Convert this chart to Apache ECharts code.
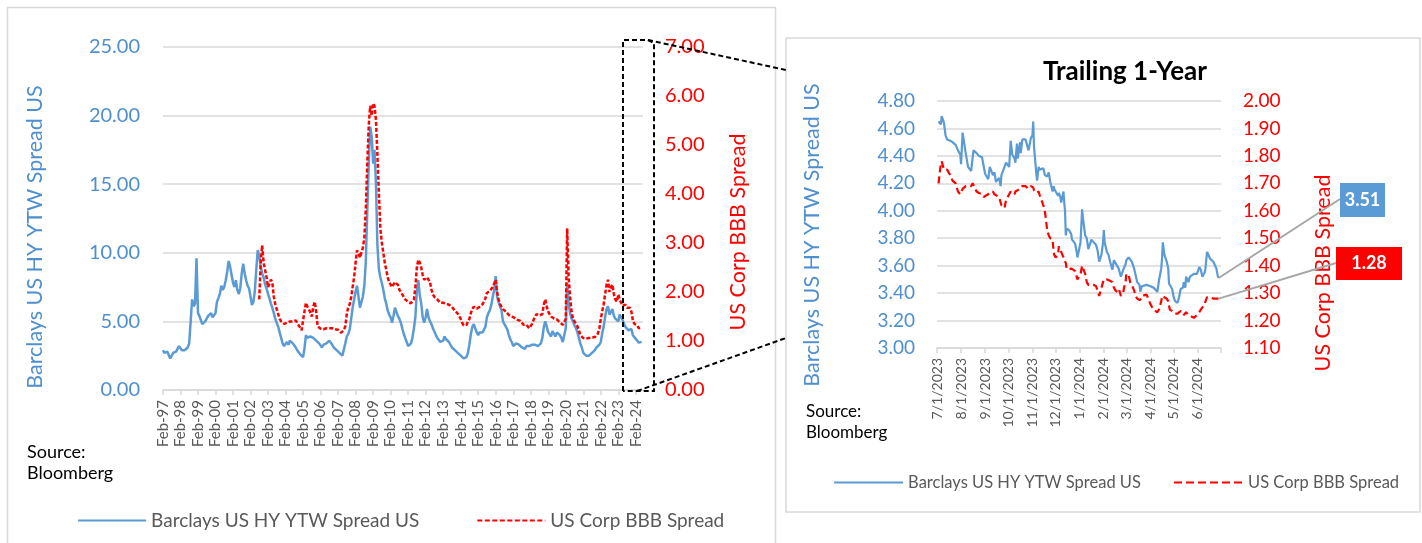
<!DOCTYPE html>
<html><head><meta charset="utf-8">
<script src="https://cdn.jsdelivr.net/npm/echarts@6/dist/echarts.min.js"></script>
<style>html,body{margin:0;padding:0;background:#fff}#c{width:1422px;height:543px}</style>
</head><body><div id="c"></div>
<script>
// ---------- Long history (monthly) ----------
const xTickLabels = ['Feb-97','Feb-98','Feb-99','Feb-00','Feb-01','Feb-02','Feb-03','Feb-04','Feb-05','Feb-06','Feb-07','Feb-08','Feb-09','Feb-10','Feb-11','Feb-12','Feb-13','Feb-14','Feb-15','Feb-16','Feb-17','Feb-18','Feb-19','Feb-20','Feb-21','Feb-22','Feb-23','Feb-24'];
const hyStart = [1997, 2];
const hyMonthly = [
  2.9,2.7,2.6,2.8,2.7,2.3,2.5,2.7,2.8,2.8,3.0,            // 1997 Feb-Dec
  3.2,3.1,2.9,2.8,2.9,2.9,3.1,3.4,5.0,6.6,6.1,6.3,        // 1998
  9.6,5.6,5.4,5.1,4.8,4.9,5.0,5.2,5.4,5.5,5.6,5.3,        // 1999
  5.2,5.6,6.4,6.7,7.0,7.6,7.3,7.5,8.0,8.6,9.4,9.0,        // 2000
  8.4,7.8,7.5,8.0,7.3,7.0,7.4,8.5,9.2,8.5,8.0,7.6,        // 2001
  7.4,6.8,6.2,6.4,7.2,8.8,10.2,9.8,9.0,8.5,8.2,7.7,       // 2002
  7.4,7.0,6.7,6.3,6.0,5.6,5.2,4.9,4.6,4.2,3.8,3.4,        // 2003
  3.2,3.2,3.5,3.3,3.6,3.5,3.4,3.3,3.1,2.9,2.8,2.6,        // 2004
  2.5,2.4,3.0,4.0,3.8,3.7,3.9,3.8,3.8,3.7,3.6,3.5,        // 2005
  3.4,3.3,3.1,3.3,3.4,3.4,3.5,3.6,3.5,3.3,3.1,3.0,        // 2006
  2.9,2.8,2.7,2.6,2.5,2.5,3.4,3.9,4.1,4.4,5.2,6.0,        // 2007
  6.6,7.2,7.6,6.8,6.0,5.9,6.8,7.6,9.4,13.0,16.5,19.2,     // 2008
  18.5,16.5,17.5,15.0,10.5,8.8,8.2,7.8,7.3,6.7,6.3,5.8,   // 2009
  5.5,5.3,4.9,5.4,6.0,5.7,5.4,5.2,4.9,4.5,4.1,3.8,        // 2010
  3.5,3.2,3.3,3.4,3.8,4.5,5.3,7.2,8.0,6.9,6.3,5.3,        // 2011
  4.9,5.3,5.9,5.3,5.0,4.8,4.5,4.4,4.0,3.8,3.7,3.5,        // 2012
  3.4,3.6,3.9,3.7,3.6,3.5,3.3,3.1,3.0,2.9,2.8,2.7,        // 2013
  2.6,2.5,2.4,2.3,2.3,2.4,2.7,3.3,4.1,4.6,4.8,4.5,        // 2014
  4.2,4.0,4.2,4.3,4.2,4.1,4.6,5.3,5.6,5.8,6.2,6.8,        // 2015
  7.3,8.3,6.8,6.4,6.1,5.8,5.0,4.8,4.6,4.4,4.0,3.7,        // 2016
  3.5,3.2,3.3,3.4,3.3,3.3,3.2,3.1,3.0,3.0,3.2,3.3,        // 2017
  3.2,3.3,3.3,3.4,3.3,3.3,3.2,3.3,3.4,3.8,4.6,5.0,        // 2018
  4.6,4.2,4.1,3.9,4.3,4.1,3.9,4.2,4.1,4.0,3.8,3.5,        // 2019
  3.4,4.5,7.8,6.3,5.6,5.2,5.0,4.7,4.5,4.2,3.8,3.4,        // 2020
  3.1,2.7,2.6,2.5,2.4,2.5,2.6,2.7,2.8,2.9,3.1,3.2,        // 2021
  3.3,3.5,4.1,4.6,5.3,5.9,6.1,5.5,5.7,5.9,5.4,5.2,        // 2022
  5.1,5.0,5.5,5.3,5.1,4.8,4.6,4.5,4.35,4.4,4.45,4.0,      // 2023
  3.85,3.75,3.6,3.45,3.55,3.51                            // 2024 Jan-Jun
];
const bbbStart = [2002, 8];
const bbbMonthly = [
  1.85,2.6,2.95,2.6,2.45,                                  // 2002 Aug-Dec
  2.3,2.1,2.1,2.25,2.2,1.9,1.75,1.65,1.55,1.45,1.4,1.37,   // 2003
  1.35,1.35,1.37,1.38,1.4,1.4,1.4,1.42,1.42,1.38,1.32,1.28,// 2004
  1.22,1.25,1.6,1.78,1.7,1.65,1.58,1.5,1.7,1.8,1.6,1.3,    // 2005
  1.26,1.25,1.22,1.24,1.25,1.26,1.26,1.26,1.27,1.26,1.25,1.24, // 2006
  1.23,1.23,1.2,1.17,1.16,1.22,1.3,1.55,1.7,1.75,1.9,2.1,  // 2007
  2.3,2.6,2.85,2.8,2.7,2.66,2.9,3.1,3.7,4.6,5.4,5.8,       // 2008
  5.6,5.85,5.8,5.5,4.8,4.0,3.3,3.0,2.8,2.6,2.45,2.3,       // 2009
  2.2,2.15,2.1,2.1,2.2,2.2,2.15,2.05,2.0,1.95,1.9,1.85,    // 2010
  1.82,1.8,1.78,1.77,1.8,1.85,2.1,2.5,2.66,2.6,2.5,2.35,   // 2011
  2.25,2.25,2.3,2.3,2.2,2.05,1.95,1.9,1.87,1.85,1.82,1.78, // 2012
  1.78,1.78,1.78,1.76,1.72,1.74,1.72,1.7,1.66,1.62,1.58,1.56, // 2013
  1.52,1.45,1.38,1.32,1.3,1.33,1.37,1.45,1.57,1.65,1.7,1.68,  // 2014
  1.66,1.68,1.7,1.72,1.75,1.8,1.87,1.98,2.0,2.02,2.05,2.1,    // 2015
  2.1,2.25,2.0,1.85,1.75,1.7,1.65,1.62,1.6,1.57,1.53,1.5,     // 2016
  1.5,1.48,1.47,1.45,1.43,1.42,1.41,1.38,1.33,1.3,1.33,1.36,  // 2017
  1.26,1.23,1.35,1.43,1.5,1.55,1.58,1.52,1.48,1.55,1.75,1.85, // 2018
  1.7,1.6,1.55,1.5,1.48,1.46,1.43,1.44,1.42,1.38,1.36,1.33,   // 2019
  1.3,1.45,3.3,2.3,1.9,1.6,1.45,1.4,1.35,1.3,1.22,1.12,       // 2020
  1.1,1.06,1.05,1.05,1.05,1.06,1.06,1.07,1.08,1.08,1.1,1.15,  // 2021
  1.25,1.45,1.6,1.75,1.95,2.15,2.25,2.0,2.1,2.15,1.95,1.85,   // 2022
  1.8,1.95,1.85,1.78,1.72,1.7,1.74,1.68,1.65,1.68,1.6,1.42,   // 2023
  1.35,1.33,1.32,1.26,1.23,1.28                               // 2024 Jan-Jun
];

// ---------- Trailing 1-year ----------
const ttmTickLabels = ['7/1/2023','8/1/2023','9/1/2023','10/1/2023','11/1/2023','12/1/2023','1/1/2024','2/1/2024','3/1/2024','4/1/2024','5/1/2024','6/1/2024'];
const ttmDates = [
'2023-07-03','2023-07-05','2023-07-06','2023-07-07','2023-07-10','2023-07-12','2023-07-14','2023-07-18','2023-07-21','2023-07-25','2023-07-28','2023-07-31',
'2023-08-01','2023-08-03','2023-08-04','2023-08-07','2023-08-10','2023-08-14','2023-08-16','2023-08-17','2023-08-21','2023-08-24','2023-08-28','2023-08-30',
'2023-09-01','2023-09-05','2023-09-07','2023-09-11','2023-09-13','2023-09-15','2023-09-19','2023-09-21','2023-09-22','2023-09-26','2023-09-28',
'2023-10-02','2023-10-04','2023-10-06','2023-10-09','2023-10-10','2023-10-12','2023-10-13','2023-10-16','2023-10-17','2023-10-19','2023-10-23','2023-10-25','2023-10-27','2023-10-30',
'2023-11-01','2023-11-02','2023-11-03','2023-11-06','2023-11-07','2023-11-09','2023-11-10','2023-11-15','2023-11-17','2023-11-20','2023-11-22','2023-11-24','2023-11-27','2023-11-28','2023-11-29',
'2023-12-01','2023-12-04','2023-12-05','2023-12-07','2023-12-08','2023-12-11','2023-12-12','2023-12-13','2023-12-14','2023-12-15','2023-12-18','2023-12-21','2023-12-22','2023-12-26','2023-12-28','2023-12-29',
'2024-01-02','2024-01-04','2024-01-05','2024-01-08','2024-01-10','2024-01-12','2024-01-16','2024-01-17','2024-01-19','2024-01-22','2024-01-24','2024-01-26','2024-01-29','2024-01-31',
'2024-02-01','2024-02-02','2024-02-05','2024-02-07','2024-02-09','2024-02-12','2024-02-14','2024-02-16','2024-02-20','2024-02-21','2024-02-23','2024-02-26','2024-02-27','2024-02-29',
'2024-03-01','2024-03-04','2024-03-06','2024-03-08','2024-03-11','2024-03-13','2024-03-15','2024-03-18','2024-03-19','2024-03-21','2024-03-22','2024-03-27',
'2024-04-01','2024-04-05','2024-04-10','2024-04-12','2024-04-15','2024-04-16','2024-04-17','2024-04-19','2024-04-22','2024-04-24','2024-04-25','2024-04-26','2024-04-29',
'2024-05-01','2024-05-03','2024-05-06','2024-05-08','2024-05-10','2024-05-13','2024-05-14','2024-05-16','2024-05-17','2024-05-20','2024-05-22','2024-05-27','2024-05-31',
'2024-06-03','2024-06-05','2024-06-07','2024-06-10','2024-06-11','2024-06-13','2024-06-14','2024-06-17','2024-06-21','2024-06-25','2024-06-27','2024-06-28'
];
const ttmHY = [
4.65,4.66,4.63,4.69,4.64,4.55,4.52,4.51,4.50,4.48,4.44,4.41,
4.34,4.57,4.57,4.42,4.32,4.29,4.28,4.44,4.42,4.40,4.39,4.33,
4.27,4.23,4.32,4.26,4.28,4.21,4.24,4.18,4.26,4.32,4.35,
4.32,4.51,4.41,4.38,4.35,4.49,4.38,4.50,4.42,4.52,4.52,4.53,4.44,4.53,
4.55,4.65,4.47,4.27,4.22,4.32,4.30,4.31,4.26,4.25,4.28,4.21,4.14,4.18,4.16,
4.15,4.11,4.13,4.10,4.06,4.14,4.06,4.00,3.82,3.87,3.86,3.83,3.79,3.76,3.70,3.66,
3.77,4.01,3.95,3.82,3.80,3.72,3.79,3.80,3.77,3.75,3.71,3.63,3.68,3.77,
3.86,3.77,3.70,3.68,3.63,3.57,3.64,3.63,3.58,3.59,3.52,3.57,3.56,3.61,
3.64,3.66,3.65,3.63,3.58,3.53,3.48,3.46,3.41,3.45,3.46,3.46,
3.45,3.44,3.41,3.49,3.58,3.65,3.77,3.68,3.63,3.58,3.47,3.48,3.43,
3.37,3.34,3.33,3.37,3.43,3.44,3.48,3.44,3.52,3.48,3.52,3.54,3.54,
3.59,3.57,3.52,3.55,3.58,3.70,3.69,3.65,3.63,3.58,3.52,3.51
];
const ttmBBB = [
1.70,1.75,1.77,1.78,1.75,1.75,1.75,1.73,1.71,1.70,1.67,1.66,
1.665,1.68,1.685,1.69,1.69,1.69,1.70,1.70,1.67,1.665,1.66,1.65,
1.655,1.66,1.665,1.67,1.66,1.66,1.65,1.63,1.62,1.61,1.64,
1.66,1.67,1.665,1.66,1.67,1.665,1.675,1.68,1.685,1.69,1.69,1.69,1.68,1.69,
1.69,1.685,1.675,1.665,1.66,1.67,1.66,1.62,1.60,1.53,1.51,1.50,1.495,1.46,1.44,
1.43,1.44,1.47,1.46,1.45,1.43,1.42,1.42,1.41,1.39,1.385,1.39,1.385,1.38,1.36,1.35,
1.37,1.40,1.395,1.37,1.34,1.33,1.33,1.33,1.33,1.325,1.32,1.29,1.32,1.34,
1.35,1.355,1.35,1.35,1.345,1.34,1.32,1.31,1.30,1.31,1.29,1.30,1.32,1.34,
1.37,1.365,1.34,1.33,1.31,1.29,1.28,1.275,1.27,1.28,1.29,1.295,
1.26,1.24,1.23,1.24,1.27,1.29,1.29,1.285,1.28,1.27,1.265,1.24,1.235,
1.23,1.225,1.225,1.23,1.235,1.23,1.22,1.225,1.23,1.22,1.22,1.21,1.22,
1.23,1.24,1.24,1.26,1.27,1.285,1.29,1.285,1.28,1.28,1.28,1.28
];

// ---------- helpers ----------
const FONT = 'Lato, "Open Sans", sans-serif';
const BLUE = '#5b9bd5', BLUE_TXT = '#4f8fcf', RED = '#ff0000', GRID = '#d9d9d9', GREY_TXT = '#595959';
function monthSeries(start, vals) {
  return vals.map((v, i) => [new Date(start[0], start[1] - 1 + i, 1).getTime(), v]);
}
function ymd(s) { const p = s.split('-').map(Number); return new Date(p[0], p[1] - 1, p[2]).getTime(); }
function mdy(s) { const p = s.split('/').map(Number); return new Date(p[2], p[0] - 1, p[1]).getTime(); }
const xTickValues = xTickLabels.map(s => { const yy = +s.slice(4); return new Date(yy > 50 ? 1900 + yy : 2000 + yy, 1, 1).getTime(); });
const xLabelMap = {}; xTickValues.forEach((v, i) => xLabelMap[v] = xTickLabels[i]);
const ttmTickValues = ttmTickLabels.map(mdy);
const ttmLabelMap = {}; ttmTickValues.forEach((v, i) => ttmLabelMap[v] = ttmTickLabels[i]);
const longMin = new Date(1997, 1, 1).getTime(), longMax = new Date(2024, 5, 30).getTime();
const ttmMin = new Date(2023, 6, 1).getTime(), ttmMax = new Date(2024, 6, 1).getTime();

const chart = echarts.init(document.getElementById('c'), null, { renderer: 'canvas' });
const NAME_HY = 'Barclays US HY YTW Spread US', NAME_BBB = 'US Corp BBB Spread';
const hideSym = { opacity: 0 };

const option = {
  animation: false,
  backgroundColor: '#ffffff',
  textStyle: { fontFamily: FONT },
  grid: [
    { left: 163, top: 47, width: 480, height: 343, containLabel: false },
    { left: 937, top: 101, width: 284, height: 247, containLabel: false }
  ],
  xAxis: [
    { type: 'value', gridIndex: 0, min: longMin, max: longMax, scale: true,
      axisLine: { lineStyle: { color: GRID, width: 1.5 } },
      axisTick: { show: true, length: 5, lineStyle: { color: GRID, width: 1.5 }, customValues: xTickValues },
      axisLabel: { rotate: 90, margin: 10, fontSize: 15, color: GREY_TXT, fontFamily: FONT, customValues: xTickValues,
        showMinLabel: true, showMaxLabel: true, formatter: v => xLabelMap[v] || '' },
      splitLine: { show: false } },
    { type: 'value', gridIndex: 1, min: ttmMin, max: ttmMax, scale: true,
      axisLine: { lineStyle: { color: GRID, width: 1.5 } },
      axisTick: { show: true, length: 5, lineStyle: { color: GRID, width: 1.5 }, customValues: ttmTickValues.concat([ttmMax]) },
      axisLabel: { rotate: 90, margin: 10, fontSize: 14, color: GREY_TXT, fontFamily: FONT, customValues: ttmTickValues,
        showMinLabel: true, formatter: v => ttmLabelMap[v] || '' },
      splitLine: { show: false } }
  ],
  yAxis: [
    { type: 'value', gridIndex: 0, min: 0, max: 25, interval: 5, position: 'left',
      axisLine: { show: false }, axisTick: { show: false },
      axisLabel: { margin: 23, fontSize: 20, color: BLUE_TXT, fontFamily: FONT, formatter: v => v.toFixed(2) },
      splitLine: { show: true, lineStyle: { color: GRID, width: 1.5 } } },
    { type: 'value', gridIndex: 0, min: 0, max: 7, interval: 1, position: 'right',
      axisLine: { show: false }, axisTick: { show: false },
      axisLabel: { margin: 22, fontSize: 20, color: RED, fontFamily: FONT, formatter: v => v.toFixed(2) },
      splitLine: { show: false } },
    { type: 'value', gridIndex: 1, min: 3.0, max: 4.8, interval: 0.2, position: 'left',
      axisLine: { show: false }, axisTick: { show: false },
      axisLabel: { margin: 22, fontSize: 19, color: BLUE_TXT, fontFamily: FONT, formatter: v => v.toFixed(2) },
      splitLine: { show: true, lineStyle: { color: GRID, width: 1.5 } } },
    { type: 'value', gridIndex: 1, min: 1.1, max: 2.0, interval: 0.1, position: 'right',
      axisLine: { show: false }, axisTick: { show: false },
      axisLabel: { margin: 22, fontSize: 19, color: RED, fontFamily: FONT, formatter: v => v.toFixed(2) },
      splitLine: { show: false } }
  ],
  legend: [
    { left: 72, top: 506, width: 700, itemWidth: 68, itemHeight: 14, itemGap: 57,
      itemStyle: hideSym,
      textStyle: { fontSize: 19, color: GREY_TXT, fontFamily: FONT },
      data: [ { name: NAME_HY, itemStyle: hideSym, lineStyle: { type: 'solid', width: 2.2 } },
              { name: NAME_BBB, itemStyle: hideSym, lineStyle: { type: [5, 2.5], width: 2.2 } } ] },
    { left: 828, top: 469, width: 590, itemWidth: 69, itemHeight: 14, itemGap: 32,
      itemStyle: hideSym,
      textStyle: { fontSize: 16.5, color: GREY_TXT, fontFamily: FONT },
      data: [ { name: NAME_HY, itemStyle: hideSym, lineStyle: { type: 'solid', width: 2.2 } },
              { name: NAME_BBB, itemStyle: hideSym, lineStyle: { type: [8, 4], width: 2.2 } } ] }
  ],
  series: [
    { name: NAME_HY, type: 'line', xAxisIndex: 0, yAxisIndex: 0, symbol: 'none', z: 3,
      lineStyle: { color: BLUE, width: 2.5 }, itemStyle: { color: BLUE },
      data: monthSeries(hyStart, hyMonthly) },
    { name: NAME_BBB, type: 'line', xAxisIndex: 0, yAxisIndex: 1, symbol: 'none', z: 4,
      lineStyle: { color: RED, width: 2.5, type: [4, 2] }, itemStyle: { color: RED },
      data: monthSeries(bbbStart, bbbMonthly) },
    { name: NAME_HY, type: 'line', xAxisIndex: 1, yAxisIndex: 2, symbol: 'none', z: 3,
      lineStyle: { color: BLUE, width: 2.2 }, itemStyle: { color: BLUE },
      data: ttmDates.map((d, i) => [ymd(d), ttmHY[i]]) },
    { name: NAME_BBB, type: 'line', xAxisIndex: 1, yAxisIndex: 3, symbol: 'none', z: 4,
      lineStyle: { color: RED, width: 2.2, type: [7, 4] }, itemStyle: { color: RED },
      data: ttmDates.map((d, i) => [ymd(d), ttmBBB[i]]) }
  ]
};
chart.setOption(option);

// ---------- decorations ----------
const lastIdx = ttmDates.length - 1;
const pHY = chart.convertToPixel({ seriesIndex: 2 }, [ymd(ttmDates[lastIdx]), ttmHY[lastIdx]]);
const pBBB = chart.convertToPixel({ seriesIndex: 3 }, [ymd(ttmDates[lastIdx]), ttmBBB[lastIdx]]);
const dash = { stroke: '#000', lineWidth: 2, lineDash: [5, 3], fill: null };
const txt = (t, x, y, size, color, extra) => Object.assign({ type: 'text', x: x, y: y, silent: true,
  style: Object.assign({ text: t, fill: color, font: size + 'px ' + FONT, align: 'left', verticalAlign: 'middle' }, extra || {}) });

chart.setOption({
  graphic: [
    { type: 'rect', z: -10, shape: { x: 7.5, y: 7.5, width: 768, height: 545 }, style: { fill: null, stroke: GRID, lineWidth: 1.5 }, silent: true },
    { type: 'rect', z: -10, shape: { x: 786, y: 38, width: 634, height: 474 }, style: { fill: null, stroke: GRID, lineWidth: 1.5 }, silent: true },
    // zoom box and connectors
    { type: 'polyline', z: 20, shape: { points: [[623, 391], [623, 40], [648, 40], [654, 43], [654, 391], [623, 391]] }, style: dash, silent: true },
    { type: 'line', z: 20, shape: { x1: 648, y1: 40, x2: 786, y2: 70 }, style: dash, silent: true },
    { type: 'line', z: 20, shape: { x1: 637, y1: 391, x2: 786, y2: 338 }, style: dash, silent: true },
    // axis names
    Object.assign(txt(NAME_HY, 35, 237, 21.5, BLUE_TXT, { align: 'center' }), { rotation: Math.PI / 2 }),
    Object.assign(txt(NAME_BBB, 738, 232, 21.5, RED, { align: 'center' }), { rotation: Math.PI / 2 }),
    Object.assign(txt(NAME_HY, 812, 235, 21.5, BLUE_TXT, { align: 'center' }), { rotation: Math.PI / 2 }),
    Object.assign(txt(NAME_BBB, 1323, 273, 21.5, RED, { align: 'center' }), { rotation: Math.PI / 2 }),
    // sources
    txt('Source:', 27, 452, 18, '#000'),
    txt('Bloomberg', 27, 473, 18, '#000'),
    txt('Source:', 806, 412, 17, '#000'),
    txt('Bloomberg', 806, 433, 17, '#000'),
    // title
    txt('Trailing 1-Year', 1125, 72, 26, '#000', { align: 'center', font: 'bold 26px ' + FONT }),
    // callouts
    { type: 'line', z: 15, shape: { x1: pHY[0], y1: pHY[1], x2: 1340, y2: 199 }, style: { stroke: '#a6a6a6', lineWidth: 2 }, silent: true },
    { type: 'line', z: 15, shape: { x1: pBBB[0], y1: pBBB[1], x2: 1336, y2: 263 }, style: { stroke: '#a6a6a6', lineWidth: 2 }, silent: true },
    { type: 'rect', z: 16, shape: { x: 1340, y: 183, width: 45, height: 34 }, style: { fill: BLUE }, silent: true },
    Object.assign(txt(ttmHY[lastIdx].toFixed(2), 1362.5, 200, 18, '#fff', { align: 'center', font: 'bold 18px ' + FONT }), { z: 17 }),
    { type: 'rect', z: 16, shape: { x: 1336, y: 247, width: 66, height: 33 }, style: { fill: RED }, silent: true },
    Object.assign(txt(ttmBBB[lastIdx].toFixed(2), 1369, 263.5, 18, '#fff', { align: 'center', font: 'bold 18px ' + FONT }), { z: 17 })
  ]
});
</script>
</body></html>
